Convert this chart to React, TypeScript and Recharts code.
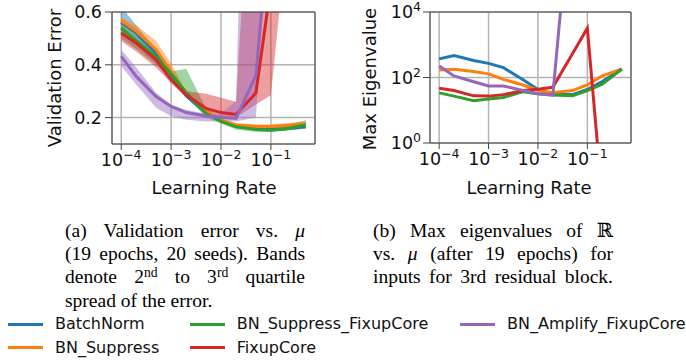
import React from 'react';
import {
  ComposedChart,
  Line,
  Area,
  XAxis,
  YAxis,
  CartesianGrid,
  ReferenceLine,
} from 'recharts';

const learningRates = [1e-4, 2e-4, 5e-4, 1e-3, 2e-3, 5e-3, 1e-2, 2e-2, 5e-2, 1e-1, 2e-1, 5e-1];

// validation error: median, 2nd and 3rd quartile
const errBatchNorm = [0.56, 0.52, 0.445, 0.362, 0.283, 0.218, 0.189, 0.168, 0.16, 0.156, 0.158, 0.165];
const errBatchNormLo = [0.53, 0.5, 0.43, 0.35, 0.275, 0.21, 0.183, 0.162, 0.153, 0.15, 0.152, 0.158];
const errBatchNormHi = [0.62, 0.55, 0.46, 0.375, 0.29, 0.225, 0.195, 0.175, 0.167, 0.163, 0.165, 0.172];

const errSuppress = [0.567, 0.527, 0.457, 0.375, 0.292, 0.223, 0.19, 0.172, 0.166, 0.166, 0.17, 0.176];
const errSuppressLo = [0.55, 0.51, 0.44, 0.36, 0.28, 0.215, 0.183, 0.165, 0.16, 0.16, 0.163, 0.168];
const errSuppressHi = [0.58, 0.55, 0.49, 0.405, 0.3, 0.23, 0.197, 0.18, 0.175, 0.175, 0.18, 0.186];

const errSuppressFixup = [0.54, 0.49, 0.43, 0.365, 0.295, 0.215, 0.186, 0.165, 0.155, 0.152, 0.158, 0.172];
const errSuppressFixupLo = [0.5, 0.46, 0.4, 0.345, 0.28, 0.2, 0.178, 0.155, 0.146, 0.145, 0.15, 0.162];
const errSuppressFixupHi = [0.55, 0.51, 0.45, 0.375, 0.385, 0.235, 0.195, 0.175, 0.165, 0.162, 0.17, 0.19];

const errFixup = [0.52, 0.482, 0.419, 0.343, 0.286, 0.235, 0.219, 0.212, 0.293, 0.7, 0.9, 0.9];
const errFixupLo = [0.49, 0.45, 0.39, 0.33, 0.275, 0.215, 0.205, 0.2, 0.25, 0.285, 0.85, 0.85];
const errFixupHi = [0.535, 0.5, 0.435, 0.355, 0.3, 0.29, 0.275, 0.26, 1.5, 1.5, 1.5, 1.5];

const errAmplifyFixup = [0.432, 0.356, 0.28, 0.242, 0.219, 0.206, 0.201, 0.197, 0.36, 1.0, 1.0, 1.0];
const errAmplifyFixupLo = [0.395, 0.325, 0.237, 0.205, 0.192, 0.185, 0.185, 0.185, 0.2, 1.08, 1.0, 1.0];
const errAmplifyFixupHi = [0.458, 0.39, 0.294, 0.249, 0.23, 0.215, 0.215, 0.262, 3.0, 3.0, 3.0, 3.0];

// max eigenvalue after 19 epochs
const eigBatchNorm = [370, 470, 330, 270, 200, 85, 43, 31, 30, 43, 75, 180];
const eigSuppress = [170, 178, 152, 129, 88, 59, 41, 34, 40, 59, 112, 182];
const eigSuppressFixup = [34, 27, 19.5, 22, 24.5, 37, 32, 29, 27.5, 40, 62, 182];
const eigFixup = [47, 40, 27.5, 27, 30, 40, 44, 50, 530, 3200, 0.02, null];
const eigAmplifyFixup = [225, 112, 74, 55, 55, 40, 32, 29, 1e8, null, null, null];

const xTicks = [1e-4, 1e-3, 1e-2, 1e-1];
const errTicks = [0.2, 0.4, 0.6];
const eigTicks = [1, 100, 10000];

const SERIES = [
  { key: 'bn', name: 'BatchNorm', color: '#1f77b4', err: errBatchNorm, lo: errBatchNormLo, hi: errBatchNormHi, eig: eigBatchNorm },
  { key: 'sup', name: 'BN_Suppress', color: '#ff7f0e', err: errSuppress, lo: errSuppressLo, hi: errSuppressHi, eig: eigSuppress },
  { key: 'supfix', name: 'BN_Suppress_FixupCore', color: '#2ca02c', err: errSuppressFixup, lo: errSuppressFixupLo, hi: errSuppressFixupHi, eig: eigSuppressFixup },
  { key: 'fix', name: 'FixupCore', color: '#d62728', err: errFixup, lo: errFixupLo, hi: errFixupHi, eig: eigFixup },
  { key: 'ampfix', name: 'BN_Amplify_FixupCore', color: '#9467bd', err: errAmplifyFixup, lo: errAmplifyFixupLo, hi: errAmplifyFixupHi, eig: eigAmplifyFixup },
];

const errRows = learningRates.map((lr, i) => {
  const row: Record<string, any> = { lr };
  SERIES.forEach((s) => {
    row[s.key] = s.err[i];
    row[s.key + 'Band'] = [s.lo[i], s.hi[i]];
  });
  return row;
});

const eigRows = learningRates.map((lr, i) => {
  const row: Record<string, any> = { lr };
  SERIES.forEach((s) => {
    row[s.key] = s.eig[i];
  });
  return row;
});

const X_DOMAIN = [Math.pow(10, -4.185), Math.pow(10, -0.116)];
const SANS = '"DejaVu Sans", sans-serif';
const SERIF = '"Liberation Serif", "Times New Roman", serif';
const SPINE = '#444';
const TEXT = '#111';

const sup = (exp: number) => (exp < 0 ? '\u2212' + -exp : String(exp));

function XPowTick(props: any) {
  const { x, y, payload } = props;
  const exp = Math.round(Math.log10(payload.value));
  return (
    <text x={x} y={y + 14} textAnchor="middle" fontFamily={SANS} fontSize={17.5} fill={TEXT}>
      10<tspan dy={-7} fontSize={12.5}>{sup(exp)}</tspan>
    </text>
  );
}

function YPowTick(props: any) {
  const { x, y, payload } = props;
  const exp = Math.round(Math.log10(payload.value));
  return (
    <text x={x} y={y + 6} textAnchor="end" fontFamily={SANS} fontSize={17.5} fill={TEXT}>
      10<tspan dy={-7} fontSize={12.5}>{sup(exp)}</tspan>
    </text>
  );
}

function YNumTick(props: any) {
  const { x, y, payload } = props;
  return (
    <text x={x - 1} y={y + 6} textAnchor="end" fontFamily={SANS} fontSize={17.5} fill={TEXT}>
      {payload.value.toFixed(1)}
    </text>
  );
}

function AxisTitle({ x, y, text, rotate }: { x: number; y: number; text: string; rotate?: boolean }) {
  return (
    <div
      style={{
        position: 'absolute',
        left: x,
        top: y,
        transform: `translate(-50%, -50%)${rotate ? ' rotate(-90deg)' : ''}`,
        whiteSpace: 'nowrap',
        fontFamily: SANS,
        fontSize: 18,
        lineHeight: 1,
        color: TEXT,
      }}
    >
      {text}
    </div>
  );
}

function ErrorChart() {
  return (
    <ComposedChart width={330} height={200} data={errRows} margin={{ top: 12, right: 15, bottom: 26, left: 52 }}>
      <CartesianGrid stroke="#b4b4b4" strokeWidth={1.5} />
      <XAxis
        dataKey="lr"
        type="number"
        scale="log"
        domain={X_DOMAIN}
        ticks={xTicks}
        interval={0}
        allowDataOverflow
        height={30}
        tickSize={6}
        stroke={SPINE}
        tick={XPowTick}
      />
      <YAxis
        type="number"
        domain={[0.1, 0.6]}
        ticks={errTicks}
        interval={0}
        allowDataOverflow
        width={60}
        tickSize={7}
        stroke={SPINE}
        tick={YNumTick}
      />
      {SERIES.map((s) => (
        <Area
          key={s.key + 'Band'}
          dataKey={s.key + 'Band'}
          type="linear"
          stroke="none"
          fill={s.color}
          fillOpacity={0.45}
          dot={false}
          activeDot={false}
          isAnimationActive={false}
        />
      ))}
      {SERIES.map((s) => (
        <Line
          key={s.key}
          dataKey={s.key}
          type="linear"
          stroke={s.color}
          strokeWidth={3}
          dot={false}
          activeDot={false}
          isAnimationActive={false}
        />
      ))}
      <ReferenceLine y={0.6} stroke={SPINE} />
      <ReferenceLine x={X_DOMAIN[1]} stroke={SPINE} />
    </ComposedChart>
  );
}

function EigenChart() {
  return (
    <ComposedChart width={330} height={200} data={eigRows} margin={{ top: 12, right: 29, bottom: 27, left: 40 }}>
      <CartesianGrid stroke="#b4b4b4" strokeWidth={1.5} />
      <XAxis
        dataKey="lr"
        type="number"
        scale="log"
        domain={X_DOMAIN}
        ticks={xTicks}
        interval={0}
        allowDataOverflow
        height={30}
        tickSize={6}
        stroke={SPINE}
        tick={XPowTick}
      />
      <YAxis
        type="number"
        scale="log"
        domain={[1, 10000]}
        ticks={eigTicks}
        interval={0}
        allowDataOverflow
        width={60}
        tickSize={7}
        stroke={SPINE}
        tick={YPowTick}
      />
      {SERIES.map((s) => (
        <Line
          key={s.key}
          dataKey={s.key}
          type="linear"
          stroke={s.color}
          strokeWidth={3}
          dot={false}
          activeDot={false}
          isAnimationActive={false}
        />
      ))}
      <ReferenceLine y={10000} stroke={SPINE} />
      <ReferenceLine x={X_DOMAIN[1]} stroke={SPINE} />
    </ComposedChart>
  );
}

function Caption({ left, lines, lastJustify }: { left: number; lines: React.ReactNode[]; lastJustify: boolean }) {
  return (
    <div
      style={{
        position: 'absolute',
        left,
        top: 219,
        width: 240,
        fontFamily: SERIF,
        fontSize: 19.5,
        lineHeight: '23.2px',
        color: '#000',
      }}
    >
      {lines.map((ln, i) => (
        <div
          key={i}
          style={{
            whiteSpace: 'nowrap',
            textAlign: 'justify',
            textAlignLast: i === lines.length - 1 && !lastJustify ? 'left' : 'justify',
          }}
        >
          {ln}
        </div>
      ))}
    </div>
  );
}

const mu = <i>μ</i>;
const supStyle: React.CSSProperties = { fontSize: '0.7em', verticalAlign: '0.45em', lineHeight: 0 };

// legend columns (series indices top to bottom)
const legendCols = [[0, 1], [2, 3], [4]];
const legendX = [8.3, 190, 460.3];
const legendY = [324, 347.7];

export default function App() {
  return (
    <div style={{ position: 'absolute', left: 0, top: 0, width: 686, height: 364, background: '#fff', overflow: 'hidden' }}>
      <div style={{ position: 'absolute', left: 0, top: 0 }}>
        <ErrorChart />
      </div>
      <div style={{ position: 'absolute', left: 330, top: 0 }}>
        <EigenChart />
      </div>
      <AxisTitle x={55} y={78} text="Validation Error" rotate />
      <AxisTitle x={214} y={188} text="Learning Rate" />
      <AxisTitle x={370} y={79} text="Max Eigenvalue" rotate />
      <AxisTitle x={529} y={188} text="Learning Rate" />

      <Caption
        left={65}
        lastJustify={false}
        lines={[
          <>(a) Validation error vs. {mu}</>,
          <>(19 epochs, 20 seeds). Bands</>,
          <>
            denote 2<span style={supStyle}>nd</span> to 3<span style={supStyle}>rd</span> quartile
          </>,
          <>spread of the error.</>,
        ]}
      />
      <Caption
        left={373}
        lastJustify
        lines={[
          <>
            (b) Max eigenvalues of <span style={{ fontFamily: '"DejaVu Serif", serif' }}>ℝ</span>
          </>,
          <>vs. {mu} (after 19 epochs) for</>,
          <>inputs for 3rd residual block.</>,
        ]}
      />

      {legendCols.map((col, ci) =>
        col.map((si, ri) => {
          const s = SERIES[si];
          return (
            <div key={s.key} style={{ position: 'absolute', left: legendX[ci], top: legendY[ri] - 11, height: 22 }}>
              <div style={{ position: 'absolute', left: 0, top: 9.5, width: 35, height: 3, background: s.color }} />
              <div
                style={{
                  position: 'absolute',
                  left: 46.7,
                  top: 0,
                  height: 22,
                  lineHeight: '22px',
                  whiteSpace: 'nowrap',
                  fontFamily: SANS,
                  fontSize: 16,
                  color: TEXT,
                }}
              >
                {s.name}
              </div>
            </div>
          );
        }),
      )}
    </div>
  );
}
